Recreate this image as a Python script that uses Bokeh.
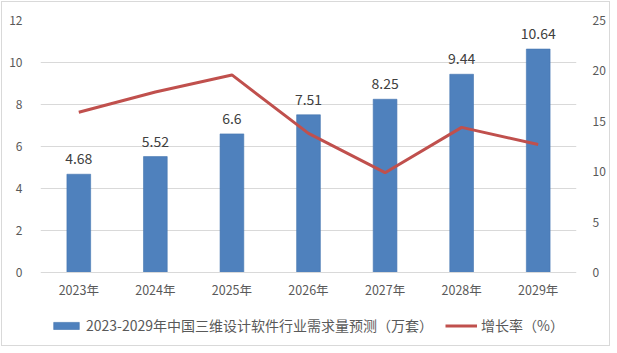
from bokeh.plotting import figure
from bokeh.models import (ColumnDataSource, Range1d, LinearAxis, Legend, LegendItem,
                          FixedTicker, FactorRange)
from bokeh.core.properties import value
from bokeh.embed import file_html
from bokeh.resources import INLINE

years = ["2023年", "2024年", "2025年", "2026年", "2027年", "2028年", "2029年"]
demand = [4.68, 5.52, 6.6, 7.51, 8.25, 9.44, 10.64]
demand_labels = ["4.68", "5.52", "6.6", "7.51", "8.25", "9.44", "10.64"]
growth = [15.9, 17.9, 19.6, 13.8, 9.9, 14.4, 12.7]
left_ticks = [0, 2, 4, 6, 8, 10, 12]
right_ticks = [0, 5, 10, 15, 20, 25]
bar_name = "2023-2029年中国三维设计软件行业需求量预测（万套）"
line_name = "增长率（%）"

FONT = "Noto Sans CJK SC"
TXT = "#595959"

# layout (pixels)
W, H = 609, 345
TOP, LEFT, RIGHT, BOTTOM = 18, 38, 35, 2
ZERO_Y = 270  # pixel row of value 0 inside the figure
frame_h = H - TOP - BOTTOM
px_left = (ZERO_Y - TOP) / 12.0
px_right = (ZERO_Y - TOP) / 25.0
left_start = 12 - frame_h / px_left
right_start = 25 - frame_h / px_right

src = ColumnDataSource(dict(x=years, y=demand, lab=demand_labels, g=growth))

p = figure(width=W, height=H, x_range=FactorRange(*years),
           y_range=Range1d(left_start, 12),
           output_backend="svg", toolbar_location=None,
           min_border_left=LEFT, min_border_right=RIGHT,
           min_border_top=TOP, min_border_bottom=BOTTOM)
p.styles = {"border": "1px solid #d9d9d9", "margin": "1px 0 0 1px"}
p.outline_line_color = None
p.background_fill_color = "white"
p.border_fill_color = "white"

p.extra_y_ranges = {"g": Range1d(right_start, 25)}

bars = p.vbar(x="x", top="y", bottom=0, width=0.31, source=src,
              fill_color="#4f81bd", line_color="#4475b0", line_width=0.6)
line = p.line(x="x", y="g", source=src, y_range_name="g",
              line_color="#c0504d", line_width=3)

p.text(x="x", y="y", text="lab", source=src, y_offset=-10, text_align="center",
       text_baseline="bottom", text_font=value(FONT), text_font_size="14px",
       text_color="#404040")

# x axis drawn at value 0
p.xaxis.fixed_location = 0
p.xaxis.axis_line_color = "#d9d9d9"
p.xaxis.major_tick_line_color = None
p.xaxis.minor_tick_line_color = None
p.xaxis.major_label_text_font = FONT
p.xaxis.major_label_text_font_size = "12.5px"
p.xaxis.major_label_text_color = TXT
p.xaxis.major_label_standoff = 1

p.yaxis.ticker = FixedTicker(ticks=left_ticks)
p.yaxis.axis_line_color = None
p.yaxis.major_tick_line_color = None
p.yaxis.minor_tick_line_color = None
p.yaxis.major_label_text_font = FONT
p.yaxis.major_label_text_font_size = "12px"
p.yaxis.major_label_text_color = TXT
p.yaxis.major_label_standoff = 12

ax2 = LinearAxis(y_range_name="g", ticker=FixedTicker(ticks=right_ticks))
ax2.axis_line_color = None
ax2.major_tick_line_color = None
ax2.minor_tick_line_color = None
ax2.major_label_text_font = FONT
ax2.major_label_text_font_size = "12px"
ax2.major_label_text_color = TXT
ax2.major_label_standoff = 10
p.add_layout(ax2, "right")

p.xgrid.grid_line_color = None
p.ygrid.grid_line_color = "#d9d9d9"
p.ygrid.ticker = FixedTicker(ticks=left_ticks[1:])

legend = Legend(items=[LegendItem(label=bar_name, renderers=[bars]),
                       LegendItem(label=line_name, renderers=[line])],
                orientation="horizontal", location=(10, 10),
                label_text_font=FONT, label_text_font_size="14px", label_text_color=TXT,
                glyph_width=32, glyph_height=9, label_standoff=4, spacing=12,
                border_line_color=None, background_fill_alpha=0, padding=2, margin=0)
p.add_layout(legend, "center")

open("out.html", "w").write(file_html(p, INLINE))
